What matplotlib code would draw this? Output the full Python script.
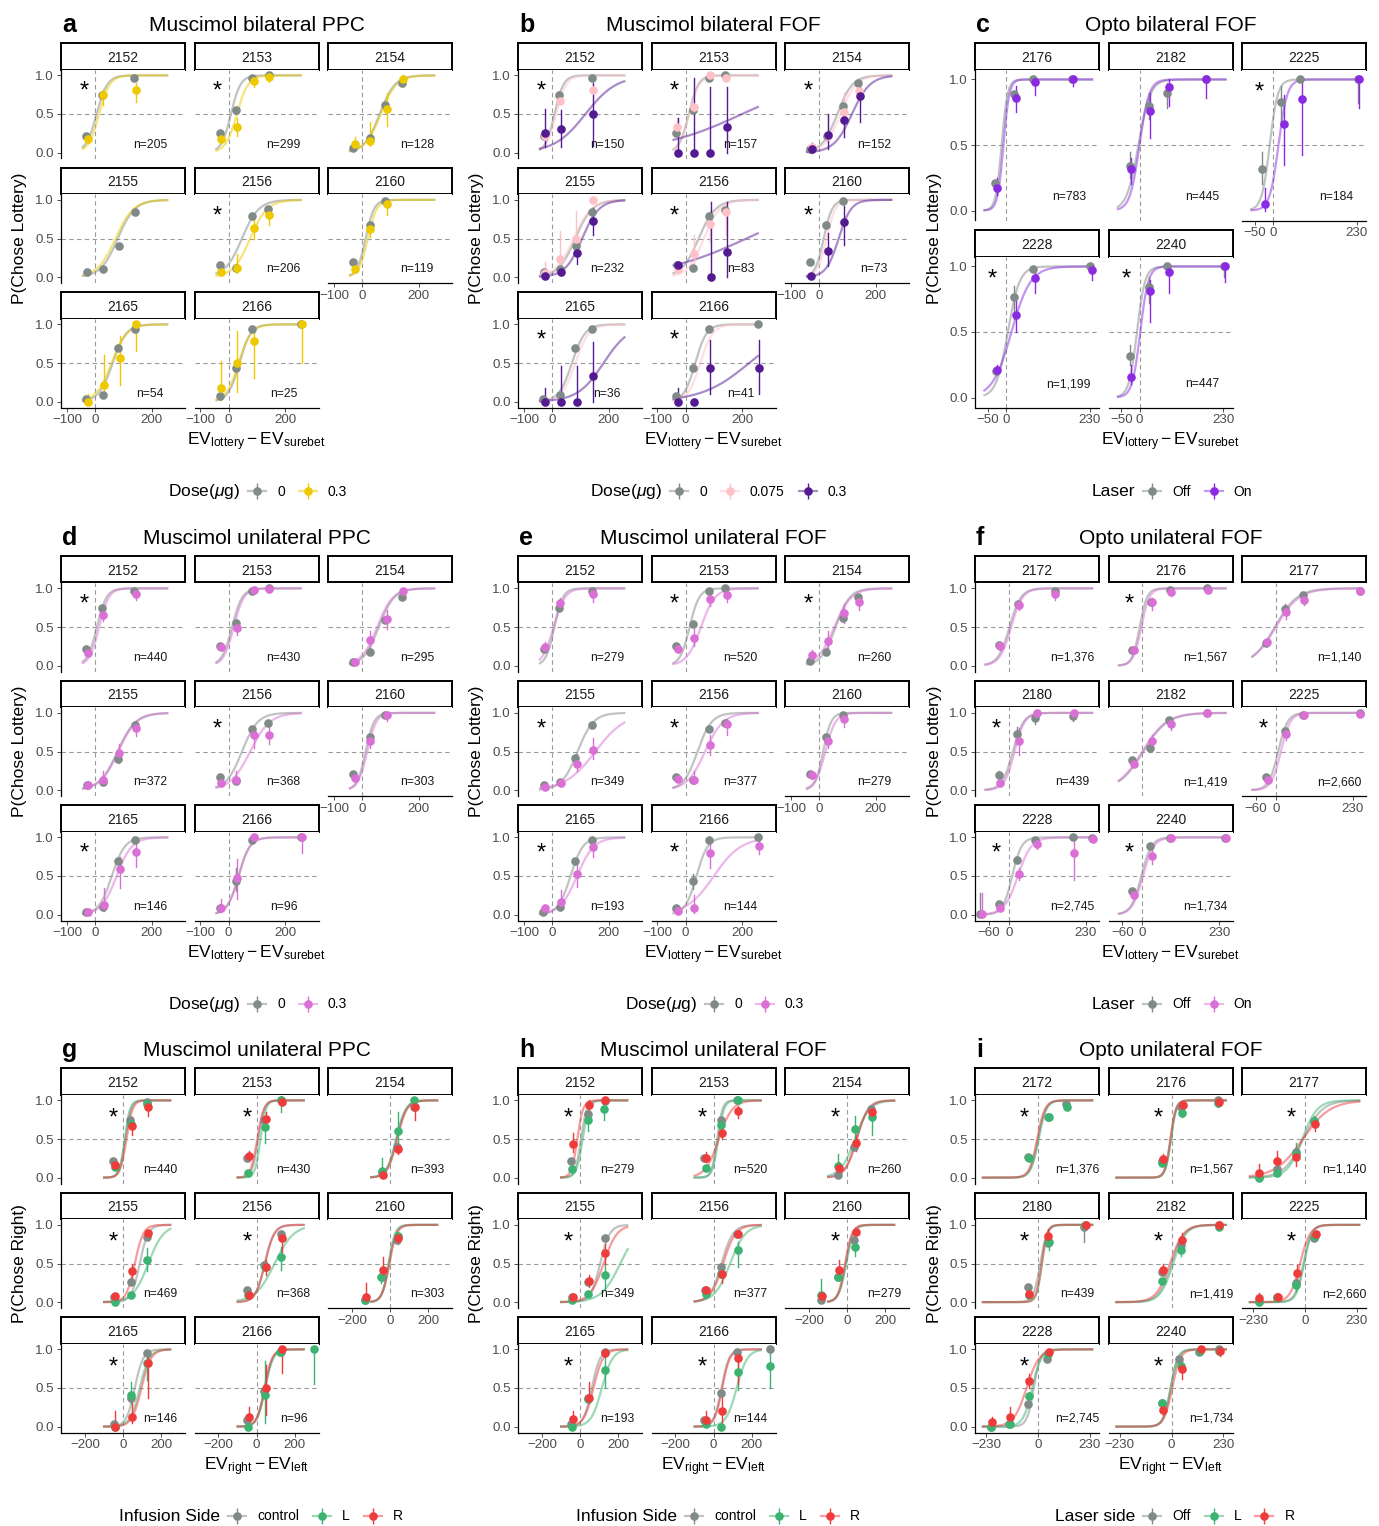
import numpy as np
import matplotlib
matplotlib.use('Agg')
from matplotlib import pyplot as plt
from matplotlib.lines import Line2D
from matplotlib.legend_handler import HandlerTuple

plt.rcParams['font.family'] = ['Liberation Sans', 'DejaVu Sans']
plt.rcParams['mathtext.fontset'] = 'custom'
plt.rcParams['mathtext.rm'] = 'Liberation Sans'
plt.rcParams['mathtext.it'] = 'Liberation Sans:italic'
plt.rcParams['mathtext.bf'] = 'Liberation Sans:bold'

# ---------------- data ----------------
# points: (x, p) or (x, p, lo, hi) ; fits: (midpoint, slope scale) of the logistic
MUSC_SUBJ = ['2152', '2153', '2154', '2155', '2156', '2160', '2165', '2166']
OPTO_SUBJ = ['2172', '2176', '2177', '2180', '2182', '2225', '2228', '2240']
C_SUBJ = ['2176', '2182', '2225', '2228', '2240']

# a: muscimol bilateral PPC
A_N = ['n=205', 'n=299', 'n=128', '', 'n=206', 'n=119', 'n=54', 'n=25']
A_STAR = [1, 1, 0, 0, 1, 0, 0, 0]
A_FIT = {
    '2152': {'0': (5, 19), '0.3': (14, 19)},
    '2153': {'0': (8, 17), '0.3': (29, 20)},
    '2154': {'0': (62, 27), '0.3': (66, 28)},
    '2155': {'0': (80, 30), '0.3': (72, 32)},
    '2156': {'0': (47, 30), '0.3': (76, 30)},
    '2160': {'0': (12, 15), '0.3': (20, 16)},
    '2165': {'0': (62, 24), '0.3': (58, 27)},
    '2166': {'0': (38, 20), '0.3': (35, 22)},
}
A_PTS = {
    '2152': {'0': [(-32, .22), (24, .74), (139, .97)],
             '0.3': [(-27, .18, .12, .25), (29, .74, .62, .83), (143, .81, .65, .90)]},
    '2153': {'0': [(-32, .25), (25, .55), (82, .97), (141, 1.0)],
             '0.3': [(-27, .18, .12, .25), (29, .33, .22, .45), (88, .93, .85, .99), (143, .98, .92, 1.0)]},
    '2154': {'0': [(-32, .06), (26, .19), (82, .62), (141, .90)],
             '0.3': [(-27, .11, .05, .2), (29, .15, .08, .4), (88, .57, .35, .77), (145, .95, .85, 1.0)]},
    '2155': {'0': [(-29, .06), (27, .11), (85, .40), (141, .84)], '0.3': []},
    '2156': {'0': [(-32, .16), (27, .12), (82, .79), (139, .88)],
             '0.3': [(-27, .06), (29, .12, .05, .3), (88, .64, .5, .8), (143, .80, .68, .88)]},
    '2160': {'0': [(-32, .20), (26, .68), (82, .98)],
             '0.3': [(-27, .10, .05, .18), (29, .62, .52, .72), (88, .95, .8, 1.0)]},
    '2165': {'0': [(-32, .04), (26, .09), (82, .69), (141, .94)],
             '0.3': [(-27, 0.0, 0, .1), (32, .22, .1, .6), (88, .56, .22, .85), (143, 1.0, .65, 1.0)]},
    '2166': {'0': [(-32, .07), (25, .43), (82, .94), (256, 1.0)],
             '0.3': [(-27, .18, .02, .52), (29, .5, .12, .92), (88, .79, .3, .95), (259, 1.0, .5, 1.0)]},
}

# b: muscimol bilateral FOF
B_N = ['n=150', 'n=157', 'n=152', 'n=232', 'n=83', 'n=73', 'n=36', 'n=41']
B_STAR = [1, 1, 1, 0, 1, 1, 1, 1]
B_FIT = {
    '2152': {'0': (8, 16), '0.075': (14, 18), '0.3': (118, 55)},
    '2153': {'0': (11, 17), '0.075': (12, 18), '0.3': (200, 150)},
    '2154': {'0': (64, 27), '0.075': (75, 28), '0.3': (116, 32)},
    '2155': {'0': (82, 30), '0.075': (76, 32), '0.3': (106, 30)},
    '2156': {'0': (46, 30), '0.075': (64, 28), '0.3': (215, 150)},
    '2160': {'0': (16, 15), '0.075': (26, 16), '0.3': (69, 22)},
    '2165': {'0': (70, 23), '0.075': (82, 24), '0.3': (182, 46)},
    '2166': {'0': (34, 20), '0.075': (52, 22), '0.3': (225, 84)},
}
B_PTS = {
    '2152': {'0': [(-29, .22), (25, .75), (140, .97)],
             '0.075': [(-26, .21), (29, .67), (143, .81)],
             '0.3': [(-24, .26, .07, .57), (32, .30, .07, .55), (146, .50, .08, .9)]},
    '2153': {'0': [(-33, .25), (25, .55), (81, .97), (140, 1.0)],
             '0.075': [(-31, .33, .22, .45), (28, .59), (85, 1.0), (142, .97)],
             '0.3': [(-26, 0, 0, .45), (31, 0, 0, .97), (87, 0, 0, .85), (145, .33, 0, .85)]},
    '2154': {'0': [(-31, .05), (26, .22), (84, .61), (139, .90)],
             '0.075': [(-27, .07), (31, .22, .12, .5), (87, .52, .35, .77), (142, .80)],
             '0.3': [(-26, .05, 0, .12), (33, .23, .05, .5), (89, .42, .2, .6), (146, .73, .4, .85)]},
    '2155': {'0': [(-29, .06), (27, .11), (85, .40), (140, .84)],
             '0.075': [(-26, .05, 0, .2), (27, .23, .05, .6), (85, .5, .3, .85), (143, 1.0)],
             '0.3': [(-25, .02), (32, .07), (88, .31, .17, .45), (146, .73, .55, .9)]},
    '2156': {'0': [(-31, .16), (26, .12), (81, .79), (140, .87)],
             '0.075': [(-28, .10, .05, .2), (31, .30, .1, .55), (85, .69, .45, .85), (142, .84, .55, .97)],
             '0.3': [(-28, .16), (89, 0, 0, .97), (145, .33, 0, .97)]},
    '2160': {'0': [(-33, .20), (25, .68), (84, .98)], '0.075': [],
             '0.3': [(-28, .01), (31, .34, .15, .57), (87, .72, .42, .92)]},
    '2165': {'0': [(-32, .04), (26, .09), (82, .69), (140, .94)], '0.075': [],
             '0.3': [(-26, 0, 0, .18), (31, 0, 0, .46), (88, 0, 0, .46), (146, .33, 0, .77)]},
    '2166': {'0': [(-33, .07), (25, .43), (81, .94), (255, 1.0)], '0.075': [],
             '0.3': [(-26, 0, 0, .18), (31, 0), (87, .43, .1, .8), (260, .43, .1, .8)]},
}

# c: opto bilateral FOF
C_N = ['n=783', 'n=445', 'n=184', 'n=1,199', 'n=447']
C_STAR = [0, 0, 1, 1, 1]
C_FIT = {
    '2176': {'Off': (-12, 8), 'On': (-7, 8)},
    '2182': {'Off': (-3, 16), 'On': (0, 13)},
    '2225': {'Off': (-9, 11), 'On': (15, 12)},
    '2228': {'Off': (5, 16), 'On': (15, 26)},
    '2240': {'Off': (-7, 11), 'On': (2, 11)},
}
C_PTS = {
    '2176': {'Off': [(-29, .21), (23, .89), (75, 1.0), (182, 1.0)],
             'On': [(-24, .17, .12, .25), (28, .86, .75, .95), (80, .98, .88, 1.0), (183, 1.0, .95, 1.0)]},
    '2182': {'Off': [(-27, .34, .25, .45), (25, .80, .7, .9), (75, .90, .78, .97), (182, 1.0)],
             'On': [(-23, .32, .2, .4), (29, .76, .55, .9), (80, .94, .8, 1.0), (183, 1.0, .86, 1.0)]},
    '2225': {'Off': [(-29, .32, .2, .45), (23, .83, .65, .95), (75, 1.0), (233, 1.0, .82, 1.0)],
             'On': [(-23, .05, 0, .17), (29, .66, .35, .88), (80, .85, .42, 1.0), (236, 1.0, .78, 1.0)]},
    '2228': {'Off': [(-27, .20), (23, .77, .6, .85), (75, .98), (230, 1.0)],
             'On': [(-24, .21, .18, .25), (27, .63, .5, .77), (80, .91, .8, .98), (236, .97, .9, 1.0)]},
    '2240': {'Off': [(-27, .32, .25, .4), (25, .84, .72, .92), (75, 1.0), (232, 1.0, .92, 1.0)],
             'On': [(-23, .16, .1, .25), (29, .81, .58, .9), (80, .96, .8, 1.0), (235, 1.0, .88, 1.0)]},
}

# d: muscimol unilateral PPC (lottery)
D_N = ['n=440', 'n=430', 'n=295', 'n=372', 'n=368', 'n=303', 'n=146', 'n=96']
D_STAR = [1, 0, 0, 0, 1, 0, 1, 0]
D_FIT = {
    '2152': {'0': (6, 17), '0.3': (14, 17)},
    '2153': {'0': (12, 18), '0.3': (18, 18)},
    '2154': {'0': (59, 27), '0.3': (53, 28)},
    '2155': {'0': (79, 32), '0.3': (82, 32)},
    '2156': {'0': (47, 28), '0.3': (76, 35)},
    '2160': {'0': (12, 15), '0.3': (18, 16)},
    '2165': {'0': (59, 23), '0.3': (76, 27)},
    '2166': {'0': (35, 20), '0.3': (35, 20)},
}
D_PTS = {
    '2152': {'0': [(-32, .21), (25, .74), (139, .97)],
             '0.3': [(-27, .16, .12, .2), (29, .66, .58, .75), (143, .93, .85, .97)]},
    '2153': {'0': [(-32, .25), (25, .55), (82, .97), (141, 1.0)],
             '0.3': [(-27, .24), (29, .49, .4, .58), (88, .98), (143, .99)]},
    '2154': {'0': [(-32, .05), (26, .18), (82, .59), (141, .89)],
             '0.3': [(-27, .05), (29, .33, .22, .45), (88, .61, .47, .72), (145, .96)]},
    '2155': {'0': [(-29, .06), (27, .11), (82, .40), (140, .84)],
             '0.3': [(-27, .06), (29, .13, .07, .25), (86, .48, .35, .6), (143, .80, .7, .9)]},
    '2156': {'0': [(-32, .17), (25, .12), (82, .79), (139, .87)],
             '0.3': [(-27, .09), (27, .13, .1, .25), (88, .72, .55, .8), (143, .71, .6, .82)]},
    '2160': {'0': [(-32, .21), (26, .69), (82, .97)],
             '0.3': [(-27, .16), (29, .64, .55, .72), (88, .97, .9, 1.0)]},
    '2165': {'0': [(-32, .04), (26, .10), (82, .70), (141, .96)],
             '0.3': [(-27, .03), (32, .13, .05, .35), (88, .59, .35, .75), (143, .81, .62, .92)]},
    '2166': {'0': [(-32, .08), (25, .43, .3, .6), (82, .96), (256, 1.0)],
             '0.3': [(-27, .09, .03, .2), (29, .47, .2, .72), (88, 1.0), (259, 1.0, .8, 1.0)]},
}

# e: muscimol unilateral FOF (lottery)
E_N = ['n=279', 'n=520', 'n=260', 'n=349', 'n=377', 'n=279', 'n=193', 'n=144']
E_STAR = [0, 1, 1, 1, 1, 0, 1, 1]
E_FIT = {
    '2152': {'0': (8, 15), '0.3': (5, 20)},
    '2153': {'0': (14, 17), '0.3': (54, 25)},
    '2154': {'0': (58, 25), '0.3': (54, 30)},
    '2155': {'0': (90, 28), '0.3': (153, 53)},
    '2156': {'0': (42, 25), '0.3': (69, 32)},
    '2160': {'0': (14, 14), '0.3': (22, 18)},
    '2165': {'0': (65, 22), '0.3': (88, 30)},
    '2166': {'0': (38, 20), '0.3': (100, 48)},
}
E_PTS = {
    '2152': {'0': [(-29, .21), (25, .74), (140, .97)],
             '0.3': [(-26, .24, .18, .3), (29, .81, .72, .88), (145, .93, .82, .98)]},
    '2153': {'0': [(-33, .25), (25, .54), (81, .97), (140, 1.0)],
             '0.3': [(-28, .22), (31, .36, .26, .48), (87, .86, .77, .93), (146, .91, .82, .96)]},
    '2154': {'0': [(-33, .06), (25, .18), (84, .62), (139, .89)],
             '0.3': [(-27, .14, .08, .2), (31, .32, .2, .45), (87, .68, .55, .8), (142, .83, .72, .92)]},
    '2155': {'0': [(-29, .06), (27, .11), (82, .41), (140, .84)],
             '0.3': [(-26, .04), (31, .09), (88, .34, .25, .47), (146, .52, .4, .68)]},
    '2156': {'0': [(-33, .17), (25, .13), (81, .79), (140, .87)],
             '0.3': [(-28, .15), (31, .13, .08, .25), (87, .59, .45, .72), (146, .85, .72, .92)]},
    '2160': {'0': [(-33, .21), (25, .69), (84, .97)],
             '0.3': [(-27, .19, .14, .24), (31, .63, .55, .72), (87, .92, .82, .98)]},
    '2165': {'0': [(-32, .04), (26, .10), (82, .69), (140, .96)],
             '0.3': [(-26, .08, .03, .12), (31, .16, .1, .32), (88, .53, .36, .68), (146, .88, .74, .96)]},
    '2166': {'0': [(-33, .09), (25, .43, .33, .53), (81, .96), (255, 1.0)],
             '0.3': [(-28, .05), (31, .08, .02, .25), (87, .80, .6, .92), (260, .89, .78, .97)]},
}

# f: opto unilateral FOF (lottery)
F_N = ['n=1,376', 'n=1,567', 'n=1,140', 'n=439', 'n=1,419', 'n=2,660', 'n=2,745', 'n=1,734']
F_STAR = [0, 1, 0, 1, 0, 1, 1, 1]
F_FIT = {
    '2172': {'Off': (2, 17), 'On': (7, 17)},
    '2176': {'Off': (-8, 11), 'On': (-3, 12)},
    '2177': {'Off': (-3, 33), 'On': (0, 35)},
    '2180': {'Off': (12, 16), 'On': (17, 15)},
    '2182': {'Off': (3, 36), 'On': (0, 36)},
    '2225': {'Off': (7, 14), 'On': (15, 14)},
    '2228': {'Off': (10, 14), 'On': (27, 20)},
    '2240': {'Off': (-3, 15), 'On': (2, 16)},
}
F_PTS = {
    '2172': {'Off': [(-30, .27), (27, .80), (138, .96)],
             'On': [(-26, .25, .2, .3), (29, .78, .72, .83), (139, .93, .85, .97)]},
    '2176': {'Off': [(-30, .20), (27, .82), (82, .98), (193, 1.0)],
             'On': [(-26, .20, .17, .23), (29, .82, .72, .88), (84, .95, .9, .98), (195, .98)]},
    '2177': {'Off': [(-28, .29), (27, .73, .65, .8), (82, .91), (250, .97)],
             'On': [(-25, .31), (30, .70, .6, .78), (85, .85, .78, .92), (250, .97)]},
    '2180': {'Off': [(-30, .20, .15, .25), (24, .73, .6, .82), (79, .94, .85, 1.0), (190, .96, .9, 1.0)],
             'On': [(-25, .09), (29, .64, .45, .8), (84, 1.0), (195, 1.0)]},
    '2182': {'Off': [(-30, .39), (24, .55, .5, .62), (79, .91), (193, 1.0)],
             'On': [(-25, .34, .3, .4), (29, .64, .55, .72), (84, .85, .78, .92), (193, 1.0)]},
    '2225': {'Off': [(-28, .17), (27, .76), (82, .97), (250, 1.0)],
             'On': [(-23, .13, .1, .17), (30, .73, .65, .8), (85, .97), (250, .99)]},
    '2228': {'Off': [(-85, .01, 0, .28), (-30, .14), (24, .71), (79, .97), (190, 1.0), (248, .99)],
             'On': [(-81, .01, 0, .28), (-25, .08), (29, .53, .45, .6), (84, .91, .85, .96),
                    (195, .80, .45, .95), (250, .98)]},
    '2240': {'Off': [(-30, .30), (24, .89), (82, .99), (247, .99)],
             'On': [(-25, .26, .2, .3), (29, .76, .65, .85), (84, .99), (250, .99)]},
}

# g: muscimol unilateral PPC (side)
G_N = ['n=440', 'n=430', 'n=393', 'n=469', 'n=368', 'n=303', 'n=146', 'n=96']
G_STAR = [1, 1, 0, 1, 1, 0, 1, 0]
G_FIT = {
    '2152': {'control': (12, 15), 'L': (9, 14), 'R': (18, 16)},
    '2153': {'control': (9, 16), 'L': (21, 14), 'R': (4, 17)},
    '2154': {'control': (35, 25), 'L': (32, 25), 'R': (38, 25)},
    '2155': {'control': (88, 22), 'L': (133, 40), 'R': (62, 22)},
    '2156': {'control': (44, 25), 'L': (95, 50), 'R': (44, 24)},
    '2160': {'control': (-5, 18), 'L': (-8, 17), 'R': (-3, 19)},
    '2165': {'control': (62, 22), 'L': (88, 25), 'R': (97, 25)},
    '2166': {'control': (44, 20), 'L': (46, 21), 'R': (42, 20)},
}
G_PTS = {
    '2152': {'control': [(-50, .21), (39, .74), (124, .98)],
             'L': [(-44, .14), (44, .70), (124, .95)],
             'R': [(-41, .16), (48, .67, .55, .78), (129, .91, .8, .98)]},
    '2153': {'control': [(-50, .25), (39, .75), (127, 1.0)],
             'L': [(-44, .06), (44, .66, .45, .75), (127, 1.0, .85, 1.0)],
             'R': [(-41, .28, .22, .35), (48, .76, .65, .85), (133, .98)]},
    '2154': {'control': [(-44, .06), (39, .40), (124, .91)],
             'L': [(-44, .08, .02, .25), (41, .61, .4, .85), (127, 1.0)],
             'R': [(-39, .03), (44, .37, .3, .45), (133, .91, .75, .98)]},
    '2155': {'control': [(-48, .07), (41, .26), (124, .84)],
             'L': [(-44, 0.0), (44, .09), (127, .55, .4, .7)],
             'R': [(-41, .08), (48, .40, .3, .5), (129, .90)]},
    '2156': {'control': [(-50, .16), (39, .48), (127, .88)],
             'L': [(-44, .09), (44, .45), (127, .59, .42, .72)],
             'R': [(-41, .09), (48, .45, .35, .55), (133, .83, .65, .92)]},
    '2160': {'control': [(-133, .03), (-44, .33), (39, .80)],
             'L': [(-133, .03), (-48, .33, .25, .4), (41, .85)],
             'R': [(-127, .06, 0, .25), (-39, .41, .3, .58), (44, .83, .75, .9)]},
    '2165': {'control': [(-48, .04), (41, .37), (124, .95)],
             'L': [(-44, 0.0), (44, .41, .3, .58), (127, .82, .6, .92)],
             'R': [(-41, 0, 0, .2), (48, .12, .05, .38), (129, .83, .37, .95)]},
    '2166': {'control': [(-50, .08), (39, .46), (127, .96)],
             'L': [(-44, 0.0), (44, .41, .05, .85), (124, .97), (301, 1.0, .55, 1.0)],
             'R': [(-41, .12, .02, .25), (48, .50, .15, .8), (133, 1.0, .7, 1.0)]},
}

# h: muscimol unilateral FOF (side)
H_N = ['n=279', 'n=520', 'n=260', 'n=349', 'n=377', 'n=279', 'n=193', 'n=144']
H_STAR = [1, 1, 1, 1, 0, 1, 1, 1]
H_FIT = {
    '2152': {'control': (5, 15), 'L': (14, 16), 'R': (-14, 15)},
    '2153': {'control': (19, 14), 'L': (25, 15), 'R': (28, 35)},
    '2154': {'control': (51, 30), 'L': (42, 38), 'R': (51, 30)},
    '2155': {'control': (106, 25), 'L': (212, 50), 'R': (124, 35)},
    '2156': {'control': (42, 30), 'L': (87, 40), 'R': (51, 32)},
    '2160': {'control': (-7, 18), 'L': (-4, 20), 'R': (-10, 18)},
    '2165': {'control': (62, 22), 'L': (115, 28), 'R': (71, 25)},
    '2166': {'control': (42, 20), 'L': (122, 28), 'R': (46, 20)},
}
H_PTS = {
    '2152': {'control': [(-48, .21), (41, .83), (129, .99)],
             'L': [(-41, .11), (41, .74, .6, .85), (127, .89, .75, .97)],
             'R': [(-39, .44, .33, .58), (46, .94, .8, 1.0), (133, 1.0)]},
    '2153': {'control': [(-50, .25), (39, .75), (124, 1.0)],
             'L': [(-42, .13), (42, .68), (127, 1.0)],
             'R': [(-42, .26, .2, .33), (46, .58, .5, .67), (131, .86, .77, .93)]},
    '2154': {'control': [(-46, .04), (39, .39), (126, .89)],
             'L': [(-46, .15, .08, .3), (41, .63, .45, .8), (131, .79, .55, .9)],
             'R': [(-40, .13, .08, .2), (46, .45, .35, .55), (134, .85, .75, .92)]},
    '2155': {'control': [(-44, .07), (44, .26), (129, .83)],
             'L': [(-41, .03), (44, .10), (129, .35, .17, .5)],
             'R': [(-39, .07), (48, .27, .2, .35), (133, .64, .5, .75)]},
    '2156': {'control': [(-46, .16), (39, .46), (124, .88)],
             'L': [(-42, .11, .05, .2), (42, .37), (127, .67, .45, .78)],
             'R': [(-42, .16, .12, .2), (46, .36, .25, .45), (131, .88)]},
    '2160': {'control': [(-135, .03), (-46, .33), (39, .80)],
             'L': [(-135, .09, 0, .3), (-46, .33), (42, .71, .6, .82)],
             'R': [(-129, .08), (-42, .41, .3, .55), (46, .91)]},
    '2165': {'control': [(-48, .03), (41, .37), (129, .96)],
             'L': [(-44, 0.0), (44, .36), (129, .73, .5, .9)],
             'R': [(-39, .10, .03, .2), (48, .37, .3, .58), (133, .95)]},
    '2166': {'control': [(-50, .09), (39, .43), (124, .96), (299, 1.0)],
             'L': [(-42, .03), (42, 0.0), (127, .71, .48, .92), (299, .78, .5, .98)],
             'R': [(-42, .08, .02, .2), (46, .20, .05, .4), (131, .89, .55, .97)]},
}

# i: opto unilateral FOF (side)
I_N = ['n=1,376', 'n=1,567', 'n=1,140', 'n=439', 'n=1,419', 'n=2,660', 'n=2,745', 'n=1,734']
I_STAR = [1, 1, 1, 1, 1, 1, 1, 1]
I_FIT = {
    '2172': {'Off': (0, 17), 'L': (3, 17), 'R': (-4, 17)},
    '2176': {'Off': (-4, 12), 'L': (-2, 12), 'R': (-5, 12)},
    '2177': {'Off': (-8, 42), 'L': (-12, 33), 'R': (-10, 60)},
    '2180': {'Off': (10, 15), 'L': (18, 12), 'R': (16, 12)},
    '2182': {'Off': (0, 28), 'L': (7, 28), 'R': (-7, 30)},
    '2225': {'Off': (-7, 18), 'L': (-4, 17), 'R': (-22, 22)},
    '2228': {'Off': (-19, 15), 'L': (-26, 20), 'R': (-51, 28)},
    '2240': {'Off': (-4, 16), 'L': (-4, 16), 'R': (3, 18)},
}
I_PTS = {
    '2172': {'Off': [(-44, .27), (44, .79), (125, .95)],
             'L': [(-41, .25), (47, .78), (127, .92)], 'R': []},
    '2176': {'Off': [(-44, .21), (44, .91), (205, 1.0)],
             'L': [(-41, .19), (47, .84, .78, .9), (208, .97, .92, 1.0)],
             'R': [(-38, .24, .18, .3), (50, .94), (211, .98)]},
    '2177': {'Off': [(-205, .01), (-125, .11), (-41, .33), (40, .73)],
             'L': [(-205, 0.0), (-125, .06), (-41, .31, .2, .45), (40, .73, .65, .8)],
             'R': [(-202, .06, .02, .18), (-122, .21, .12, .35), (-38, .27, .15, .38), (45, .69, .6, .78)]},
    '2180': {'Off': [(-44, .20), (44, .76), (205, .97, .78, 1.0)],
             'L': [(-41, .09), (47, .78, .68, .88), (208, 1.0)],
             'R': [(-38, .10), (44, .86, .75, .95), (211, 1.0)]},
    '2182': {'Off': [(-44, .39), (44, .74), (211, 1.0)],
             'L': [(-41, .27), (44, .68, .6, .78), (211, .97)],
             'R': [(-38, .41, .35, .5), (47, .81, .72, .9), (211, 1.0)]},
    '2225': {'Off': [(-205, .01), (-125, .07), (-41, .25), (40, .83)],
             'L': [(-205, 0.0), (-122, .05), (-38, .22, .15, .3), (42, .86)],
             'R': [(-202, .05, 0, .12), (-118, .07, .03, .12), (-37, .38, .3, .48), (47, .88)]},
    '2228': {'Off': [(-209, 0.0), (-129, .03), (-45, .29), (40, .87)],
             'L': [(-209, 0.0), (-126, .04), (-41, .39, .3, .45), (44, .94)],
             'R': [(-205, .06, .02, .12), (-122, .12, .05, .25), (-38, .59, .5, .68), (47, .97)]},
    '2240': {'Off': [(-41, .30), (35, .88), (123, .97), (211, 1.0)],
             'L': [(-41, .30), (42, .79), (127, .98), (211, .98)],
             'R': [(-37, .22, .15, .3), (47, .75, .62, .85), (130, 1.0), (213, .98, .92, 1.0)]},
}

# ---------------- styling / layout ----------------
GRAY = '#808A87'
YELLOW = '#EEC900'
PINK = '#FFC1C8'
DPURPLE = '#541A92'
VIOLET = '#8A2BE2'
ORCHID = '#DA70D6'
GREEN = '#3CB371'
RED = '#EE3B3B'

W, H = 1379, 1526
FACET_W = 124
COL_PITCH = 133.5
STRIP_H = 26.5
YLIM = (-0.076, 1.076)
MS = 6.2

XL_LOT = r'$\mathrm{EV}_{\mathrm{lottery}} - \mathrm{EV}_{\mathrm{surebet}}$'
XL_SIDE = r'$\mathrm{EV}_{\mathrm{right}} - \mathrm{EV}_{\mathrm{left}}$'
DOSE = r'Dose($\mu$g)'

fig = plt.figure(figsize=(W / 100, H / 100), dpi=100)


def px_axes(x, y, w, h):
    return fig.add_axes([x / W, 1 - (y + h) / H, w / W, h / H])


def logistic(x, mu, s):
    return 1 / (1 + np.exp(-(x - mu) / s))


def draw_panel(cfg, subjects, n_text, stars, fits, pts):
    left, top = cfg['left'], cfg['top']
    plot_h, pitch = cfg['plot_h'], cfg['pitch']
    conds, colors = cfg['conds'], cfg['colors']
    nsub = len(subjects)
    nrow = (nsub + 2) // 3
    for i, subj in enumerate(subjects):
        r, c = i // 3, i % 3
        fx = left + c * COL_PITCH
        fy = top + r * pitch
        # strip
        sax = px_axes(fx, fy, FACET_W, STRIP_H)
        sax.set_xticks([])
        sax.set_yticks([])
        for sp in sax.spines.values():
            sp.set_linewidth(1.4)
            sp.set_color('black')
        sax.text(0.5, 0.45, subj, ha='center', va='center', fontsize=10, color='#1A1A1A',
                 transform=sax.transAxes)

        ax = px_axes(fx, fy + STRIP_H, FACET_W, plot_h)
        ax.set_xlim(cfg['xlim'])
        ax.set_ylim(YLIM)
        ax.axhline(0.5, color='#9A9A9A', lw=0.8, ls=(0, (4, 3)), zorder=1)
        ax.axvline(0, color='#9A9A9A', lw=0.8, ls=(0, (4, 3)), zorder=1)

        xx = np.linspace(cfg['curve'][0], cfg['curve'][1], 200)
        for cond, col in zip(conds, colors):
            mu, s = fits[subj][cond]
            ax.plot(xx, logistic(xx, mu, s), color=col, lw=1.6, alpha=0.5, zorder=2,
                    solid_capstyle='butt')
        for cond, col in zip(conds, colors):
            for pt in pts[subj][cond]:
                if len(pt) == 4:
                    ax.plot([pt[0], pt[0]], [pt[2], pt[3]], color=col, lw=1.0, zorder=3)
                ax.plot(pt[0], pt[1], 'o', color=col, ms=MS, mew=0, zorder=4)

        if stars[i]:
            ax.annotate('*', xy=(cfg['star_x'], cfg['star_y']), xytext=(0, -9),
                        textcoords='offset points', ha='center', va='baseline', fontsize=17)
        if n_text[i]:
            ax.text(cfg['n_x'], 0.1, n_text[i], ha='center', va='center', fontsize=8.7,
                    color='#1A1A1A')

        bottom = i + 3 >= nsub
        for name in ('top', 'right'):
            ax.spines[name].set_visible(False)
        ax.spines['left'].set_visible(c == 0)
        ax.spines['bottom'].set_visible(bottom)
        ax.spines['left'].set_linewidth(0.9)
        ax.spines['bottom'].set_linewidth(0.9)
        ax.tick_params(length=3, width=0.6, color='#333333', labelcolor='#4D4D4D',
                       labelsize=9.6, pad=2)
        ax.set_yticks([0, 0.5, 1.0])
        if c == 0:
            ax.set_yticklabels(['0.0', '0.5', '1.0'])
        else:
            ax.tick_params(left=False, labelleft=False)
        ax.set_xticks(cfg['xticks'])
        if bottom:
            ax.set_xticklabels([str(t).replace('-', '\u2212') for t in cfg['xticks']])
        else:
            ax.tick_params(bottom=False, labelbottom=False)

    total_h = (nrow - 1) * pitch + STRIP_H + plot_h
    yc = top + STRIP_H + (total_h - STRIP_H) / 2
    fig.text((left - 41) / W, 1 - yc / H, cfg['ylabel'], rotation=90, ha='center',
             va='center', fontsize=12.5)
    xc = left + (2 * COL_PITCH + FACET_W) / 2
    bot = top + total_h
    fig.text(xc / W, 1 - (bot + 38) / H, cfg['xlabel'], ha='center', va='baseline',
             fontsize=12.5)
    # title and letter
    fig.text(xc / W, 1 - (top - 12) / H, cfg['title'], ha='center', va='baseline', fontsize=15)
    fig.text((left + 1) / W, 1 - (top - 11) / H, cfg['letter'], ha='left', va='baseline',
             fontsize=18, fontweight='bold')

    # legend: title as text, entries as a legend right of it
    ly = bot + 84
    fig.text(cfg['leg_x'] / W, 1 - ly / H, cfg['leg_title'], ha='right', va='center',
             fontsize=12.5)
    handles = []
    for col in colors:
        hl = Line2D([], [], color=col, lw=1.6, alpha=0.5)
        vl = Line2D([], [], color=col, marker='|', ms=12, mew=1.0, ls='none')
        pt = Line2D([], [], color=col, marker='o', ms=MS, mew=0, ls='none')
        handles.append((hl, vl, pt))
    fig.legend(handles, cfg['leg_labels'], loc='center left',
               bbox_to_anchor=((cfg['leg_x'] + 8) / W, 1 - ly / H), ncol=len(colors),
               frameon=False, fontsize=10, handlelength=1.3, handletextpad=0.8,
               columnspacing=1.0, borderpad=0, borderaxespad=0,
               handler_map={tuple: HandlerTuple(ndivide=1, pad=0)})


STD = dict(plot_h=89, pitch=124.5)
LOT_STD = dict(xlim=(-121, 318), xticks=[-100, 0, 200], curve=(-47, 259), star_x=-40,
               star_y=0.87, n_x=194, ylabel='P(Chose Lottery)', xlabel=XL_LOT)

panels = [
    (dict(STD, **LOT_STD, left=61, top=43, letter='a', title='Muscimol bilateral PPC',
          conds=['0', '0.3'], colors=[GRAY, YELLOW], leg_title=DOSE, leg_labels=['0', '0.3'],
          leg_x=240), MUSC_SUBJ, A_N, A_STAR, A_FIT, A_PTS),
    (dict(STD, **LOT_STD, left=518, top=43, letter='b', title='Muscimol bilateral FOF',
          conds=['0', '0.075', '0.3'], colors=[GRAY, PINK, DPURPLE], leg_title=DOSE,
          leg_labels=['0', '0.075', '0.3'], leg_x=662), MUSC_SUBJ, B_N, B_STAR, B_FIT, B_PTS),
    (dict(plot_h=151, pitch=187, left=975, top=43, letter='c', title='Opto bilateral FOF',
          xlim=(-85, 255), xticks=[-50, 0, 230], curve=(-62, 239), star_x=-37, star_y=0.95,
          n_x=172, ylabel='P(Chose Lottery)', xlabel=XL_LOT, conds=['Off', 'On'],
          colors=[GRAY, VIOLET], leg_title='Laser', leg_labels=['Off', 'On'], leg_x=1135),
     C_SUBJ, C_N, C_STAR, C_FIT, C_PTS),
    (dict(STD, **LOT_STD, left=61, top=556, letter='d', title='Muscimol unilateral PPC',
          conds=['0', '0.3'], colors=[GRAY, ORCHID], leg_title=DOSE, leg_labels=['0', '0.3'],
          leg_x=240), MUSC_SUBJ, D_N, D_STAR, D_FIT, D_PTS),
    (dict(STD, **LOT_STD, left=518, top=556, letter='e', title='Muscimol unilateral FOF',
          conds=['0', '0.3'], colors=[GRAY, ORCHID], leg_title=DOSE, leg_labels=['0', '0.3'],
          leg_x=697), MUSC_SUBJ, E_N, E_STAR, E_FIT, E_PTS),
    (dict(STD, left=975, top=556, letter='f', title='Opto unilateral FOF',
          xlim=(-101, 269), xticks=[-60, 0, 230], curve=(-73, 252), star_x=-38, star_y=0.87,
          n_x=188, ylabel='P(Chose Lottery)', xlabel=XL_LOT, conds=['Off', 'On'],
          colors=[GRAY, ORCHID], leg_title='Laser', leg_labels=['Off', 'On'], leg_x=1135),
     OPTO_SUBJ, F_N, F_STAR, F_FIT, F_PTS),
    (dict(STD, left=61, top=1068, letter='g', title='Muscimol unilateral PPC',
          xlim=(-326, 326), xticks=[-200, 0, 200], curve=(-105, 254), star_x=-50, star_y=0.85,
          n_x=195, ylabel='P(Chose Right)', xlabel=XL_SIDE, conds=['control', 'L', 'R'],
          colors=[GRAY, GREEN, RED], leg_title='Infusion Side', leg_labels=['control', 'L', 'R'],
          leg_x=220), MUSC_SUBJ, G_N, G_STAR, G_FIT, G_PTS),
    (dict(STD, left=518, top=1068, letter='h', title='Muscimol unilateral FOF',
          xlim=(-326, 326), xticks=[-200, 0, 200], curve=(-105, 254), star_x=-60, star_y=0.85,
          n_x=195, ylabel='P(Chose Right)', xlabel=XL_SIDE, conds=['control', 'L', 'R'],
          colors=[GRAY, GREEN, RED], leg_title='Infusion Side', leg_labels=['control', 'L', 'R'],
          leg_x=677), MUSC_SUBJ, H_N, H_STAR, H_FIT, H_PTS),
    (dict(STD, left=975, top=1068, letter='i', title='Opto unilateral FOF',
          xlim=(-279, 270), xticks=[-230, 0, 230], curve=(-249, 245), star_x=-59, star_y=0.85,
          n_x=176, ylabel='P(Chose Right)', xlabel=XL_SIDE, conds=['Off', 'L', 'R'],
          colors=[GRAY, GREEN, RED], leg_title='Laser side', leg_labels=['Off', 'L', 'R'],
          leg_x=1135), OPTO_SUBJ, I_N, I_STAR, I_FIT, I_PTS),
]

for cfg, subj, ntxt, star, fit, pts in panels:
    draw_panel(cfg, subj, ntxt, star, fit, pts)

fig.savefig('out.png', dpi=100)
